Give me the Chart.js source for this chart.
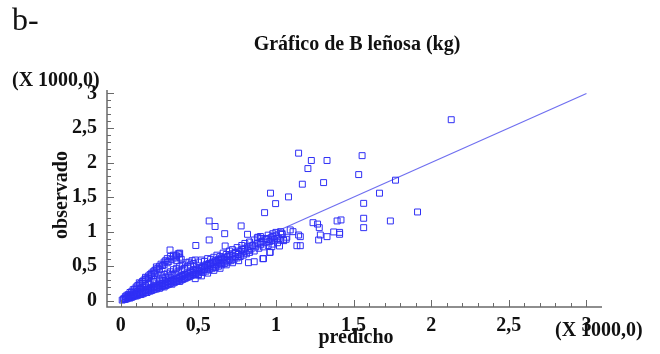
<!DOCTYPE html>
<html>
<head>
<meta charset="utf-8">
<script src="https://cdn.jsdelivr.net/npm/chart.js@4.4.1/dist/chart.umd.min.js"></script>
<style>
  html, body { margin: 0; padding: 0; background: #ffffff; }
  #wrap { width: 660px; height: 354px; position: relative; }
</style>
</head>
<body>
<div id="wrap"><canvas id="c" width="660" height="354"></canvas></div>
<script>
// ---- data (values in thousands of kg, as displayed) ----
const tickValues = [0, 0.5, 1, 1.5, 2, 2.5, 3];
const tickLabels = ["0", "0,5", "1", "1,5", "2", "2,5", "3"];

// lower (main) band of observed vs predicted
const lowBand = [
[0.01,0.01],[0.02,0.02],[0.02,0.03],[0.03,0.02],[0.03,0.04],[0.04,0.03],[0.04,0.05],[0.05,0.04],[0.05,0.06],[0.06,0.04],
[0.06,0.06],[0.07,0.05],[0.07,0.07],[0.08,0.06],[0.08,0.08],[0.09,0.07],[0.09,0.09],[0.10,0.07],[0.10,0.10],[0.11,0.08],
[0.11,0.11],[0.12,0.09],[0.12,0.12],[0.13,0.09],[0.13,0.11],[0.14,0.10],[0.14,0.13],[0.15,0.11],[0.15,0.14],[0.16,0.12],
[0.16,0.15],[0.17,0.12],[0.17,0.16],[0.18,0.14],[0.18,0.17],[0.19,0.14],[0.19,0.18],[0.20,0.15],[0.20,0.19],[0.21,0.16],
[0.21,0.20],[0.22,0.17],[0.22,0.21],[0.23,0.17],[0.23,0.20],[0.24,0.19],[0.24,0.23],[0.25,0.18],[0.25,0.22],[0.26,0.20],
[0.26,0.24],[0.27,0.21],[0.27,0.25],[0.28,0.20],[0.28,0.23],[0.29,0.22],[0.29,0.26],[0.30,0.23],[0.30,0.28],[0.31,0.24],
[0.31,0.27],[0.32,0.25],[0.32,0.29],[0.33,0.24],[0.33,0.28],[0.34,0.26],[0.34,0.31],[0.35,0.27],[0.35,0.30],[0.36,0.28],
[0.36,0.33],[0.37,0.29],[0.37,0.32],[0.38,0.28],[0.38,0.34],[0.39,0.30],[0.39,0.35],[0.40,0.31],[0.40,0.36],[0.41,0.32],
[0.41,0.38],[0.42,0.33],[0.42,0.37],[0.43,0.34],[0.43,0.40],[0.44,0.35],[0.44,0.39],[0.45,0.36],[0.45,0.42],[0.46,0.37],
[0.46,0.41],[0.47,0.38],[0.47,0.44],[0.48,0.39],[0.48,0.43],[0.49,0.40],[0.49,0.46],[0.50,0.38],[0.50,0.44],[0.51,0.42],
[0.51,0.48],[0.52,0.43],[0.52,0.47],[0.53,0.41],[0.53,0.50],[0.54,0.45],[0.54,0.49],[0.55,0.43],[0.55,0.52],[0.56,0.47],
[0.56,0.51],[0.57,0.45],[0.57,0.54],[0.58,0.49],[0.58,0.53],[0.59,0.47],[0.59,0.56],[0.60,0.50],[0.60,0.55],[0.61,0.48],
[0.61,0.58],[0.62,0.52],[0.62,0.56],[0.63,0.50],[0.63,0.60],[0.64,0.54],[0.64,0.58],[0.65,0.52],[0.65,0.62],[0.66,0.56],
[0.66,0.60],[0.67,0.54],[0.67,0.63],[0.68,0.58],[0.69,0.56],[0.69,0.64],[0.70,0.60],[0.70,0.66],[0.71,0.58],[0.72,0.62],
[0.72,0.68],[0.73,0.60],[0.74,0.64],[0.74,0.70],[0.75,0.62],[0.76,0.67],[0.76,0.72],[0.77,0.64],[0.78,0.69],[0.78,0.74],
[0.79,0.66],[0.80,0.71],[0.80,0.76],[0.81,0.68],[0.82,0.73],[0.82,0.79],[0.83,0.70],[0.84,0.75],[0.85,0.80],[0.86,0.72],
[0.87,0.78],[0.88,0.83],[0.89,0.76],[0.90,0.81],[0.91,0.86],[0.92,0.78],[0.93,0.84],[0.94,0.89],[0.95,0.80],[0.96,0.86],
[0.97,0.91],[0.98,0.82],[0.99,0.88],[1.00,0.94],[1.01,0.84],[1.02,0.90],[1.04,0.96],[1.05,0.87],[1.07,0.92]
];

// steep upper band near the origin
const highBand = [
[0.03,0.06],[0.04,0.08],[0.05,0.09],[0.06,0.12],[0.07,0.13],[0.08,0.16],[0.09,0.17],[0.10,0.20],[0.10,0.17],[0.11,0.22],
[0.12,0.23],[0.12,0.26],[0.13,0.25],[0.14,0.28],[0.14,0.25],[0.15,0.30],[0.16,0.31],[0.16,0.34],[0.17,0.33],[0.18,0.36],
[0.18,0.32],[0.19,0.38],[0.20,0.40],[0.20,0.36],[0.21,0.42],[0.22,0.44],[0.22,0.40],[0.23,0.46],[0.23,0.49],[0.24,0.47],
[0.25,0.50],[0.25,0.45],[0.26,0.53],[0.27,0.51],[0.28,0.56],[0.28,0.52],[0.29,0.58],[0.30,0.55],[0.30,0.61],[0.31,0.57],
[0.32,0.64],[0.33,0.60],[0.34,0.66],[0.35,0.62],[0.36,0.65],[0.37,0.68],[0.38,0.63],[0.38,0.69],[0.36,0.58],[0.39,0.60]
];

// points spread between and around the two bands
const midFan = [
[0.06,0.08],[0.08,0.11],[0.10,0.13],[0.12,0.16],[0.13,0.18],[0.15,0.20],[0.16,0.22],[0.18,0.25],[0.19,0.27],[0.21,0.28],
[0.22,0.31],[0.24,0.33],[0.25,0.30],[0.26,0.36],[0.27,0.33],[0.28,0.38],[0.29,0.34],[0.30,0.40],[0.31,0.36],[0.32,0.42],
[0.33,0.38],[0.34,0.45],[0.35,0.40],[0.36,0.47],[0.37,0.43],[0.38,0.50],[0.39,0.45],[0.40,0.52],[0.41,0.47],[0.42,0.55],
[0.43,0.50],[0.44,0.56],[0.45,0.52],[0.46,0.58],[0.47,0.54],[0.48,0.59],[0.50,0.56],[0.52,0.59],[0.54,0.57],[0.56,0.61],
[0.58,0.60],[0.60,0.63],[0.62,0.66],[0.64,0.64],[0.66,0.69],[0.68,0.67],[0.70,0.72],[0.72,0.74],[0.75,0.77],[0.78,0.80],
[0.80,0.83],[0.83,0.85],[0.86,0.88],[0.88,0.91],[0.90,0.93],[0.93,0.90],[0.95,0.95],[0.98,0.97],[1.00,0.99],[1.03,1.00],
[0.48,0.32],[0.50,0.37],[0.52,0.36],[0.56,0.40],[0.60,0.44],[0.64,0.47],[0.68,0.52],[0.72,0.55],[0.76,0.58],[0.92,0.61],
[0.96,0.70]
];

// isolated points read individually
const outliers = [
[0.570,1.155],[0.608,1.075],[0.776,1.083],[0.670,0.971],[0.817,0.962],[0.484,0.800],[0.570,0.880],[0.673,0.793],[0.884,0.919],[0.905,0.900],
[0.965,1.557],[1.081,1.503],[0.998,1.406],[0.927,1.275],[1.146,2.136],[1.228,2.030],[1.329,2.030],[1.555,2.100],[1.206,1.913],[1.533,1.826],
[1.170,1.687],[1.307,1.710],[1.770,1.745],[1.667,1.557],[1.565,1.410],[1.565,1.194],[1.565,1.058],[1.737,1.155],[1.394,1.155],[1.419,1.170],
[1.239,1.130],[1.268,1.110],[1.279,1.058],[1.372,0.996],[1.410,0.962],[1.410,0.990],[1.286,0.952],[1.329,0.928],[1.275,0.880],[1.135,0.797],
[1.092,1.025],[1.110,1.000],[1.146,0.952],[1.157,0.928],[1.039,0.977],[1.028,0.880],[1.049,0.880],[1.006,0.904],[1.023,0.793],[0.981,0.928],
[0.974,0.783],[1.066,0.890],[1.912,1.285],[2.129,2.620],[0.318,0.735],[0.376,0.677],[0.355,0.648],[0.823,0.551],[0.860,0.565],[0.916,0.609],
[0.963,0.701],[1.157,0.797]
];

// fitted line (observed = predicted)
const fitX = [0, 3];
const fitY = [0, 3];

// ---- chart ----
const allPoints = [].concat(lowBand, highBand, midFan, outliers).map(p => ({x: p[0], y: p[1]}));
const linePoints = fitX.map((v, i) => ({x: v, y: fitY[i]}));

const SERIF = "'Liberation Serif', 'Times New Roman', serif";

const decor = {
  id: 'decor',
  afterDraw(chart) {
    const ctx = chart.ctx;
    const ca = chart.chartArea;
    const xs = chart.scales.x, ys = chart.scales.y;
    ctx.save();
    // axis lines
    ctx.strokeStyle = '#6a6a6a';
    ctx.lineWidth = 1.5;
    ctx.beginPath();
    ctx.moveTo(ca.left, ca.top);
    ctx.lineTo(ca.left, ca.bottom);
    ctx.lineTo(ca.right, ca.bottom);
    ctx.stroke();
    // ticks (inside)
    ctx.lineWidth = 1;
    ctx.beginPath();
    for (let k = 0; k <= 30; k++) {
      const v = k / 10;
      const major = (k % 5 === 0);
      const len = major ? 7 : 4;
      const py = Math.round(ys.getPixelForValue(v)) + 0.5;
      ctx.moveTo(ca.left, py); ctx.lineTo(ca.left + len, py);
      const px = Math.round(xs.getPixelForValue(v)) + 0.5;
      ctx.moveTo(px, ca.bottom); ctx.lineTo(px, ca.bottom - len);
    }
    ctx.stroke();

    // texts
    ctx.fillStyle = '#111';
    ctx.textBaseline = 'middle';
    ctx.font = "32px " + SERIF;
    ctx.textAlign = 'left';
    ctx.fillText('b-', 12, 22);

    ctx.font = "bold 20px " + SERIF;
    ctx.textAlign = 'center';
    ctx.fillText('Gráfico de B leñosa (kg)', 357, 45);

    ctx.textAlign = 'left';
    ctx.fillText('(X 1000,0)', 12, 81);
    ctx.fillText('(X 1000,0)', 555, 331);

    ctx.textAlign = 'center';
    ctx.fillText('predicho', 356, 338);

    ctx.save();
    ctx.translate(62, 195);
    ctx.rotate(-Math.PI / 2);
    ctx.fillText('observado', 0, 0);
    ctx.restore();

    ctx.restore();
  }
};

new Chart(document.getElementById('c'), {
  type: 'scatter',
  data: {
    datasets: [
      {
        label: 'ajuste',
        type: 'line',
        data: linePoints,
        borderColor: '#6f6ff0',
        borderWidth: 1.2,
        pointRadius: 0,
        fill: false,
        tension: 0,
        order: 2
      },
      {
        label: 'observado',
        data: allPoints,
        pointStyle: 'rect',
        pointRadius: 4.2,
        pointBorderWidth: 1,
        borderColor: '#2f2ff5',
        backgroundColor: 'rgba(0,0,0,0)',
        pointBackgroundColor: 'rgba(0,0,0,0)',
        order: 1
      }
    ]
  },
  options: {
    responsive: false,
    animation: false,
    devicePixelRatio: 1,
    layout: { padding: { top: 90, right: 58, bottom: 0, left: 0 } },
    plugins: { legend: { display: false }, tooltip: { enabled: false }, title: { display: false } },
    scales: {
      x: {
        type: 'linear',
        min: -0.088, max: 3.10,
        grid: { display: false, drawTicks: false },
        border: { display: false },
        afterBuildTicks: s => { s.ticks = tickValues.map(v => ({ value: v })); },
        afterFit: s => { s.height = 47; },
        ticks: {
          padding: 7,
          maxRotation: 0,
          autoSkip: false,
          color: '#111',
          font: { family: SERIF, size: 20, weight: 'bold' },
          callback: (v, i) => tickLabels[i]
        }
      },
      y: {
        type: 'linear',
        min: -0.09, max: 3.05,
        grid: { display: false, drawTicks: false },
        border: { display: false },
        afterBuildTicks: s => { s.ticks = tickValues.map(v => ({ value: v })); },
        afterFit: s => { s.width = 107; },
        ticks: {
          padding: 10,
          autoSkip: false,
          color: '#111',
          font: { family: SERIF, size: 20, weight: 'bold' },
          callback: (v, i) => tickLabels[i]
        }
      }
    }
  },
  plugins: [decor]
});
</script>
</body>
</html>
